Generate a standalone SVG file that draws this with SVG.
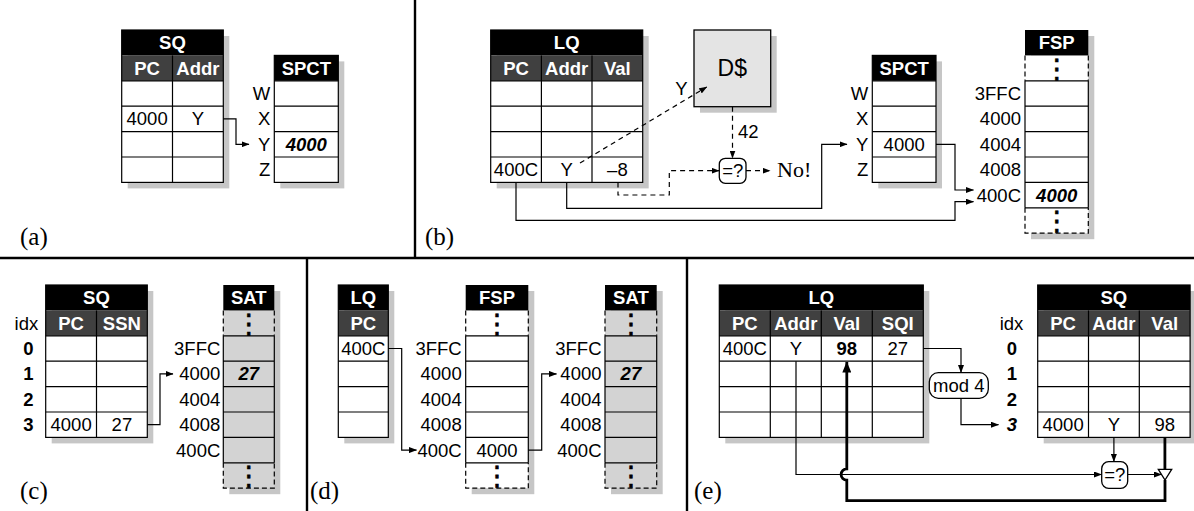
<svg xmlns="http://www.w3.org/2000/svg" width="1194" height="511" viewBox="0 0 1194 511">
<style>
text{font-family:"Liberation Sans",Arial,sans-serif;font-size:18.5px;fill:#000}
.c{text-anchor:middle}
.r{text-anchor:end}
.b{font-weight:bold}
.bi{font-weight:bold;font-style:italic}
.w{fill:#fff}
.lbl{font-family:"Liberation Serif","Times New Roman",serif;font-size:25px}
.dots{font-family:"DejaVu Sans",sans-serif;font-size:27px;text-anchor:middle;stroke:#000;stroke-width:0.6}
.sh{fill:#c6c6c6}
.ttl{fill:#000}
.hdr{fill:#404040}
.body{fill:#fff}
.gray{fill:#d3d3d3}
.grid{fill:none;stroke:#000;stroke-width:1.2}
.dsh{fill:none;stroke:#000;stroke-width:1.2;stroke-dasharray:5 3}
.ln{fill:none;stroke:#000;stroke-width:1.2}
.dl{fill:none;stroke:#000;stroke-width:1.2;stroke-dasharray:5 4}
.thick{fill:none;stroke:#000;stroke-width:2.8}
.box{fill:#fff;stroke:#000;stroke-width:1.3}
.div{fill:none;stroke:#000;stroke-width:2.4}
</style>
<defs>
<marker id="ah" markerWidth="8" markerHeight="6" refX="7.5" refY="3" orient="auto" markerUnits="userSpaceOnUse"><path d="M0,0 L8,3 L0,6 z" fill="#000"/></marker>
<marker id="ahb" markerWidth="11" markerHeight="9" refX="10.5" refY="4.5" orient="auto" markerUnits="userSpaceOnUse"><path d="M0,0 L11,4.5 L0,9 z" fill="#000"/></marker>
</defs>

<g id="panel-dividers">
<path class="div" d="M0 258H1194M415 0V258M307 258V511M687 258V511"/>
</g>

<g id="labels">
<text class="lbl" x="20" y="245">(a)</text>
<text class="lbl" x="425" y="245">(b)</text>
<text class="lbl" x="20" y="499">(c)</text>
<text class="lbl" x="310" y="499">(d)</text>
<text class="lbl" x="694" y="499">(e)</text>
</g>

<!-- (a) -->
<g id="a-sq" transform="translate(121.7,30)">
<rect class="sh" x="6" y="6" width="101.6" height="152.4"/>
<rect class="ttl" width="101.6" height="25.4"/>
<rect class="hdr" y="25.4" width="101.6" height="25.4"/>
<rect class="body" y="50.8" width="101.6" height="101.6"/>
<path class="grid" d="M0 50.8H101.6M0 76.2H101.6M0 101.6H101.6M0 127H101.6M50.8 25.4V152.4"/>
<rect class="grid" width="101.6" height="152.4"/>
<text class="c b w" x="50.8" y="19.2">SQ</text>
<text class="c b w" x="25.4" y="44.6">PC</text>
<text class="c b w" x="76.2" y="44.6">Addr</text>
<text class="c" x="25.4" y="95.4">4000</text>
<text class="c" x="76.2" y="95.4">Y</text>
</g>
<g id="a-spct" transform="translate(274.3,55.4)">
<rect class="sh" x="6" y="6" width="64" height="127"/>
<rect class="ttl" width="64" height="25.4"/>
<rect class="body" y="25.4" width="64" height="101.6"/>
<path class="grid" d="M0 25.4H64M0 50.8H64M0 76.2H64M0 101.6H64"/>
<rect class="grid" width="64" height="127"/>
<text class="c b w" x="32" y="19.2">SPCT</text>
<text class="c bi" x="32" y="95.4">4000</text>
<text class="r" x="-4" y="44.6">W</text>
<text class="r" x="-4" y="70">X</text>
<text class="r" x="-4" y="95.4">Y</text>
<text class="r" x="-4" y="120.8">Z</text>
</g>

<!-- (b) -->
<g id="b-lq" transform="translate(490.7,30)">
<rect class="sh" x="6" y="6" width="152" height="152.4"/>
<rect class="ttl" width="152" height="25.4"/>
<rect class="hdr" y="25.4" width="152" height="25.4"/>
<rect class="body" y="50.8" width="152" height="101.6"/>
<path class="grid" d="M0 50.8H152M0 76.2H152M0 101.6H152M0 127H152M50.7 25.4V152.4M101.3 25.4V152.4"/>
<rect class="grid" width="152" height="152.4"/>
<text class="c b w" x="76" y="19.2">LQ</text>
<text class="c b w" x="25.3" y="44.6">PC</text>
<text class="c b w" x="76" y="44.6">Addr</text>
<text class="c b w" x="126.7" y="44.6">Val</text>
<text class="c" x="25.3" y="146.2">400C</text>
<text class="c" x="76" y="146.2">Y</text>
<text class="c" x="126.7" y="146.2">–8</text>
</g>
<g id="b-dcache">
<rect class="sh" x="700" y="36" width="76.7" height="76.7"/>
<rect x="694" y="30" width="76.7" height="76.7" fill="#e4e4e4" stroke="#000" stroke-width="1.3"/>
<text class="c" x="732.3" y="76" style="font-size:23px">D$</text>
</g>
<g id="b-cmp">
<rect class="box" x="719.3" y="158.3" width="26.7" height="25" rx="6"/>
<text class="c" x="732.7" y="177.3">=?</text>
</g>
<g id="b-spct" transform="translate(872.3,55.4)">
<rect class="sh" x="6" y="6" width="63.7" height="127"/>
<rect class="ttl" width="63.7" height="25.4"/>
<rect class="body" y="25.4" width="63.7" height="101.6"/>
<path class="grid" d="M0 25.4H63.7M0 50.8H63.7M0 76.2H63.7M0 101.6H63.7"/>
<rect class="grid" width="63.7" height="127"/>
<text class="c b w" x="31.9" y="19.2">SPCT</text>
<text class="c" x="31.9" y="95.4">4000</text>
<text class="r" x="-4" y="44.6">W</text>
<text class="r" x="-4" y="70">X</text>
<text class="r" x="-4" y="95.4">Y</text>
<text class="r" x="-4" y="120.8">Z</text>
</g>
<g id="b-fsp" transform="translate(1025,30)">
<rect class="sh" x="6" y="6" width="63.3" height="203.2"/>
<rect class="body" y="25.4" width="63.3" height="177.8"/>
<rect class="ttl" width="63.3" height="25.4"/>
<path class="grid" d="M0 50.8H63.3M0 76.2H63.3M0 101.6H63.3M0 127H63.3M0 152.4H63.3M0 177.8H63.3M0 50.8V177.8M63.3 50.8V177.8"/>
<path class="dsh" d="M0 25.4V50.8M63.3 25.4V50.8M0 177.8V203.2H63.3V177.8"/>
<text class="c b w" x="31.7" y="19.2">FSP</text>
<text class="dots" x="31.7" y="47.5">⋮</text>
<text class="dots" x="31.7" y="199.9">⋮</text>
<text class="c bi" x="31.7" y="171.6">4000</text>
<text class="r" x="-4" y="70">3FFC</text>
<text class="r" x="-4" y="95.4">4000</text>
<text class="r" x="-4" y="120.8">4004</text>
<text class="r" x="-4" y="146.2">4008</text>
<text class="r" x="-4" y="171.6">400C</text>
</g>
<g id="b-texts">
<text class="c" x="681.5" y="95">Y</text>
<text x="738" y="138">42</text>
<text class="lbl" x="777" y="177" style="font-size:22px">No!</text>
</g>

<!-- (c) -->
<g id="c-sq" transform="translate(45.7,285)">
<rect class="sh" x="6" y="6" width="101.6" height="152.4"/>
<rect class="ttl" width="101.6" height="25.4"/>
<rect class="hdr" y="25.4" width="101.6" height="25.4"/>
<rect class="body" y="50.8" width="101.6" height="101.6"/>
<path class="grid" d="M0 50.8H101.6M0 76.2H101.6M0 101.6H101.6M0 127H101.6M50.8 25.4V152.4"/>
<rect class="grid" width="101.6" height="152.4"/>
<text class="c b w" x="50.8" y="19.2">SQ</text>
<text class="c b w" x="25.4" y="44.6">PC</text>
<text class="c b w" x="76.2" y="44.6">SSN</text>
<text class="c" x="25.4" y="146.2">4000</text>
<text class="c" x="76.2" y="146.2">27</text>
<text class="r" x="-7.5" y="44.6">idx</text>
<text class="c b" x="-17.2" y="70">0</text>
<text class="c b" x="-17.2" y="95.4">1</text>
<text class="c b" x="-17.2" y="120.8">2</text>
<text class="c b" x="-17.2" y="146.2">3</text>
</g>
<g id="c-sat" transform="translate(223.3,285)">
<rect class="sh" x="6" y="6" width="51" height="203.2"/>
<rect class="gray" y="25.4" width="51" height="177.8"/>
<rect class="ttl" width="51" height="25.4"/>
<path class="grid" d="M0 50.8H51M0 76.2H51M0 101.6H51M0 127H51M0 152.4H51M0 177.8H51M0 50.8V177.8M51 50.8V177.8"/>
<path class="dsh" d="M0 25.4V50.8M51 25.4V50.8M0 177.8V203.2H51V177.8"/>
<text class="c b w" x="25.5" y="19.2">SAT</text>
<text class="dots" x="25.5" y="47.5">⋮</text>
<text class="dots" x="25.5" y="199.9">⋮</text>
<text class="c bi" x="25.5" y="95.4">27</text>
<text class="r" x="-3" y="70">3FFC</text>
<text class="r" x="-3" y="95.4">4000</text>
<text class="r" x="-3" y="120.8">4004</text>
<text class="r" x="-3" y="146.2">4008</text>
<text class="r" x="-3" y="171.6">400C</text>
</g>

<!-- (d) -->
<g id="d-lq" transform="translate(338.3,285)">
<rect class="sh" x="6" y="6" width="50" height="152.4"/>
<rect class="ttl" width="50" height="25.4"/>
<rect class="hdr" y="25.4" width="50" height="25.4"/>
<rect class="body" y="50.8" width="50" height="101.6"/>
<path class="grid" d="M0 50.8H50M0 76.2H50M0 101.6H50M0 127H50"/>
<rect class="grid" width="50" height="152.4"/>
<text class="c b w" x="25" y="19.2">LQ</text>
<text class="c b w" x="25" y="44.6">PC</text>
<text class="c" x="25" y="70">400C</text>
</g>
<g id="d-fsp" transform="translate(465.7,285)">
<rect class="sh" x="6" y="6" width="62.6" height="203.2"/>
<rect class="body" y="25.4" width="62.6" height="177.8"/>
<rect class="ttl" width="62.6" height="25.4"/>
<path class="grid" d="M0 50.8H62.6M0 76.2H62.6M0 101.6H62.6M0 127H62.6M0 152.4H62.6M0 177.8H62.6M0 50.8V177.8M62.6 50.8V177.8"/>
<path class="dsh" d="M0 25.4V50.8M62.6 25.4V50.8M0 177.8V203.2H62.6V177.8"/>
<text class="c b w" x="31.3" y="19.2">FSP</text>
<text class="dots" x="31.3" y="47.5">⋮</text>
<text class="dots" x="31.3" y="199.9">⋮</text>
<text class="c" x="31.3" y="171.6">4000</text>
<text class="r" x="-4" y="70">3FFC</text>
<text class="r" x="-4" y="95.4">4000</text>
<text class="r" x="-4" y="120.8">4004</text>
<text class="r" x="-4" y="146.2">4008</text>
<text class="r" x="-4" y="171.6">400C</text>
</g>
<g id="d-sat" transform="translate(605,285)">
<rect class="sh" x="6" y="6" width="51.7" height="203.2"/>
<rect class="gray" y="25.4" width="51.7" height="177.8"/>
<rect class="ttl" width="51.7" height="25.4"/>
<path class="grid" d="M0 50.8H51.7M0 76.2H51.7M0 101.6H51.7M0 127H51.7M0 152.4H51.7M0 177.8H51.7M0 50.8V177.8M51.7 50.8V177.8"/>
<path class="dsh" d="M0 25.4V50.8M51.7 25.4V50.8M0 177.8V203.2H51.7V177.8"/>
<text class="c b w" x="25.9" y="19.2">SAT</text>
<text class="dots" x="25.9" y="47.5">⋮</text>
<text class="dots" x="25.9" y="199.9">⋮</text>
<text class="c bi" x="25.9" y="95.4">27</text>
<text class="r" x="-3.5" y="70">3FFC</text>
<text class="r" x="-3.5" y="95.4">4000</text>
<text class="r" x="-3.5" y="120.8">4004</text>
<text class="r" x="-3.5" y="146.2">4008</text>
<text class="r" x="-3.5" y="171.6">400C</text>
</g>

<!-- (e) -->
<g id="e-lq" transform="translate(719.3,285)">
<rect class="sh" x="6" y="6" width="204" height="152.4"/>
<rect class="ttl" width="204" height="25.4"/>
<rect class="hdr" y="25.4" width="204" height="25.4"/>
<rect class="body" y="50.8" width="204" height="101.6"/>
<path class="grid" d="M0 50.8H204M0 76.2H204M0 101.6H204M0 127H204M51 25.4V152.4M102 25.4V152.4M153 25.4V152.4"/>
<rect class="grid" width="204" height="152.4"/>
<text class="c b w" x="102" y="19.2">LQ</text>
<text class="c b w" x="25.5" y="44.6">PC</text>
<text class="c b w" x="76.5" y="44.6">Addr</text>
<text class="c b w" x="127.5" y="44.6">Val</text>
<text class="c b w" x="178.5" y="44.6">SQI</text>
<text class="c" x="25.5" y="70">400C</text>
<text class="c" x="76.5" y="70">Y</text>
<text class="c b" x="127.5" y="70">98</text>
<text class="c" x="178.5" y="70">27</text>
</g>
<g id="e-sq" transform="translate(1037.7,285)">
<rect class="sh" x="6" y="6" width="152.4" height="152.4"/>
<rect class="ttl" width="152.4" height="25.4"/>
<rect class="hdr" y="25.4" width="152.4" height="25.4"/>
<rect class="body" y="50.8" width="152.4" height="101.6"/>
<path class="grid" d="M0 50.8H152.4M0 76.2H152.4M0 101.6H152.4M0 127H152.4M50.8 25.4V152.4M101.6 25.4V152.4"/>
<rect class="grid" width="152.4" height="152.4"/>
<text class="c b w" x="76.2" y="19.2">SQ</text>
<text class="c b w" x="25.4" y="44.6">PC</text>
<text class="c b w" x="76.2" y="44.6">Addr</text>
<text class="c b w" x="127" y="44.6">Val</text>
<text class="c" x="25.4" y="146.2">4000</text>
<text class="c" x="76.2" y="146.2">Y</text>
<text class="c" x="127" y="146.2">98</text>
<text class="r" x="-14.4" y="44.6">idx</text>
<text class="c b" x="-25.7" y="70">0</text>
<text class="c b" x="-25.7" y="95.4">1</text>
<text class="c b" x="-25.7" y="120.8">2</text>
<text class="c bi" x="-25.7" y="146.2">3</text>
</g>
<g id="e-mod">
<rect class="box" x="929.3" y="372.7" width="59" height="25.6" rx="9"/>
<text class="c" x="958.8" y="392">mod 4</text>
</g>
<g id="e-cmp">
<rect class="box" x="1101.7" y="461.7" width="26" height="26.6" rx="7"/>
<text class="c" x="1114.7" y="481">=?</text>
</g>
<g id="e-buf">
<path class="box" d="M1158.3 469.3H1171.7L1165 480Z"/>
</g>

<g id="connectors">
<path class="ln" d="M223.3 118.9H236V144.3H249" marker-end="url(#ah)"/>
<path class="dl" d="M580 163L706.7 87" marker-end="url(#ah)"/>
<path class="dl" d="M732.5 106.7V158" marker-end="url(#ah)"/>
<path class="dl" d="M618 182.4V195H669.3V170.7H719" marker-end="url(#ah)"/>
<path class="dl" d="M746 170.7H770" marker-end="url(#ah)"/>
<path class="ln" d="M566.7 182.4V208.3H821.7V144.3H847" marker-end="url(#ah)"/>
<path class="ln" d="M516 182.4V220.3H955V201.7H973.5" marker-end="url(#ah)"/>
<path class="ln" d="M936 144.3H955V190H973.5" marker-end="url(#ah)"/>
<path class="ln" d="M147.3 424.7H160V373.9H173" marker-end="url(#ah)"/>
<path class="ln" d="M388.3 348.5H401.7V450.1H416.5" marker-end="url(#ah)"/>
<path class="ln" d="M528.3 450.1H541.7V373.9H556.5" marker-end="url(#ah)"/>
<path class="ln" d="M923.3 348.5H961V372.5" marker-end="url(#ah)"/>
<path class="ln" d="M961 398.3V424.7H998.5" marker-end="url(#ah)"/>
<path class="ln" d="M796 361.2V474.5H1101.5" marker-end="url(#ah)"/>
<path class="ln" d="M1113.9 437.4V461.5" marker-end="url(#ah)"/>
<path class="ln" d="M1127.7 474.5H1161.5" marker-end="url(#ah)"/>
<path class="thick" d="M1164.9 437.4V469.3"/>
<path class="thick" d="M1165 480V500.7H846.8V480.2A5.7 5.7 0 0 1 846.8 468.8V362" marker-end="url(#ahb)"/>
</g>
</svg>
